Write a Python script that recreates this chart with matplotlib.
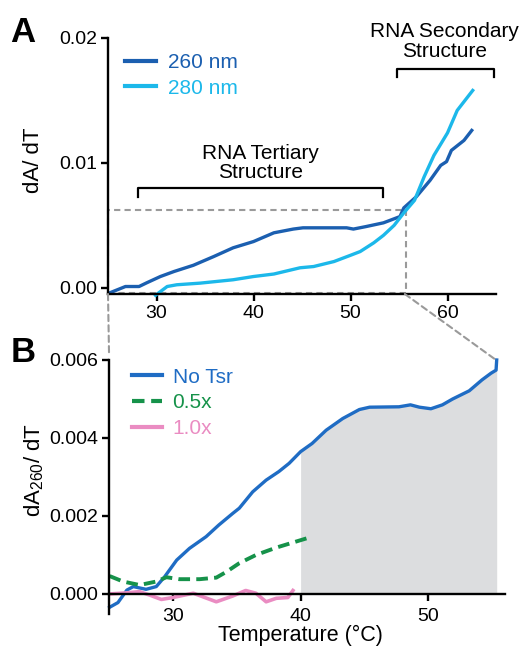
import numpy as np
import matplotlib
matplotlib.use("Agg")
import matplotlib.pyplot as plt
from matplotlib.patches import Rectangle, ConnectionPatch

plt.rcParams['font.family'] = ['Liberation Sans', 'DejaVu Sans']
plt.rcParams['mathtext.fontset'] = 'custom'
plt.rcParams['mathtext.rm'] = 'Liberation Sans'
plt.rcParams['mathtext.it'] = 'Liberation Sans'

# panel A: dA/dT at two wavelengths
temp_260 = [25.2, 26.8, 28.2, 29.0, 30.4, 31.8, 33.8, 35.9, 37.9, 40.0, 42.1, 44.1,
            45.1, 48.2, 49.6, 50.3, 51.6, 53.4, 55.1, 55.5, 56.8, 58.2, 59.3, 59.9,
            60.4, 61.7, 62.0, 62.5]
dadt_260 = [-0.0004, 0.0001, 0.0001, 0.0004, 0.0009, 0.0013, 0.0018, 0.0025, 0.0032,
            0.0037, 0.0044, 0.0047, 0.0048, 0.0048, 0.0048, 0.0047, 0.0049, 0.0052,
            0.0057, 0.0064, 0.0073, 0.0086, 0.0098, 0.0101, 0.0110, 0.0118, 0.0121,
            0.0126]
temp_280 = [29.9, 31.1, 32.1, 34.5, 37.9, 40.0, 42.1, 44.8, 46.2, 48.3, 50.0, 51.0,
            52.4, 53.4, 54.5, 55.5, 56.6, 57.6, 58.6, 60.0, 61.0, 62.6]
dadt_280 = [-0.0006, 0.0001, 0.00024, 0.00037, 0.00064, 0.0009, 0.0011, 0.0016,
            0.0017, 0.0021, 0.0026, 0.0029, 0.0036, 0.0042, 0.0050, 0.0060, 0.0070,
            0.0089, 0.0106, 0.0124, 0.0142, 0.0158]

# panel B: dA260/dT with Tsr
temp_none = [25.05, 25.7, 26.4, 26.9, 27.9, 28.7, 29.35, 30.3, 31.3, 32.6, 33.6, 34.7,
             35.2, 36.25, 37.3, 38.3, 39.1, 40.0, 40.9, 42.0, 43.3, 44.6, 45.4, 47.7,
             48.6, 49.3, 50.2, 51.1, 51.9, 53.2, 54.2, 54.9, 55.3, 55.35]
dadt_none = [-0.00034, -0.00022, 0.0001, 0.00019, 0.00012, 0.00019, 0.00044, 0.00087,
             0.00117, 0.00147, 0.00177, 0.00207, 0.0022, 0.00262, 0.00292, 0.00314,
             0.00335, 0.00365, 0.00386, 0.0042, 0.0045, 0.00473, 0.00479, 0.0048,
             0.00485, 0.00479, 0.00475, 0.00485, 0.005, 0.00521, 0.00549, 0.00566,
             0.00574, 0.006]
temp_half = [25.05, 26.1, 27.4, 28.7, 29.5, 30.5, 32.1, 33.4, 34.2, 35.2, 36.5, 38.1,
             39.4, 40.7]
dadt_half = [0.00046, 0.00032, 0.00023, 0.00032, 0.00043, 0.00038, 0.00038, 0.00042,
             0.00057, 0.00079, 0.0010, 0.00119, 0.00132, 0.00145]
temp_one = [25.0, 26.4, 27.4, 28.2, 29.1, 30.0, 31.6, 33.4, 34.7, 35.7, 36.5, 37.3,
            38.1, 39.0, 39.4]
dadt_one = [0.0, 0.00003, 0.00006, -0.00003, -0.00014, -0.00009, 0.00002, -0.0002,
            -0.00005, 0.00009, 0.00002, -0.0002, -0.00011, -0.00009, 0.00009]

c260 = '#1b5fb0'
c280 = '#1cb8ea'
cnone = '#1f6cc4'
chalf = '#16924a'
cone = '#ea8cc2'
grey = '#9a9a9a'

fig = plt.figure(figsize=(5.24, 6.48), dpi=100)
axA = fig.add_axes([108/524, 1-294/648, 388/524, 256/648])
axB = fig.add_axes([109/524, 1-613.5/648, 396/524, 253.5/648])

for ax in (axA, axB):
    ax.spines['top'].set_visible(False)
    ax.spines['right'].set_visible(False)
    for s in ('left', 'bottom'):
        ax.spines[s].set_linewidth(1.7)
    ax.tick_params(width=1.7, length=5, labelsize=14, pad=3)
    ax.patch.set_alpha(0)

# ---- panel A
axA.plot(temp_260, dadt_260, color=c260, lw=2.4, label='260 nm', clip_on=False)
axA.plot(temp_280, dadt_280, color=c280, lw=2.4, label='280 nm', clip_on=False)
axA.set_xlim(25, 65)
axA.set_ylim(-0.0005, 0.02)
axA.set_xticks([30, 40, 50, 60])
axA.set_yticks([0, 0.01, 0.02])
axA.set_yticklabels(['0.00', '0.01', '0.02'])
leg = axA.legend(loc='upper left', bbox_to_anchor=(0.045, 0.94), frameon=False,
                 fontsize=15, handlelength=1.45, handletextpad=0.6,
                 labelspacing=0.3, borderpad=0, borderaxespad=0,
                 labelcolor='linecolor')
for ln in leg.get_lines():
    ln.set_linewidth(3)

axA.add_patch(Rectangle((25, -0.0004), 30.7, 0.0066, fill=False, ec=grey,
                        lw=1.5, ls=(0, (3, 2)), clip_on=False, zorder=0))

# brackets
axA.plot([28.1, 28.1, 53.3, 53.3], [0.0073, 0.008, 0.008, 0.0073], color='k',
         lw=1.6, clip_on=False)
axA.text(40.7, 0.0100, 'RNA Tertiary\nStructure', ha='center', va='center',
         fontsize=15, linespacing=1.05)
axA.plot([54.8, 54.8, 64.8, 64.8], [0.0169, 0.0175, 0.0175, 0.0169], color='k',
         lw=1.6, clip_on=False)
axA.text(59.7, 0.0197, 'RNA Secondary\nStructure', ha='center', va='center',
         fontsize=15, linespacing=1.05)

# ---- panel B
tn = np.array(temp_none)
dn = np.array(dadt_none)
axB.fill_between(tn, 0, dn, where=tn >= 40, color='#dcdddf', lw=0, zorder=0)
axB.plot(temp_none, dadt_none, color=cnone, lw=2.4, label='No Tsr', clip_on=False)
axB.plot(temp_half, dadt_half, color=chalf, lw=2.8, ls=(0, (3, 1.6)), label='0.5x')
axB.plot(temp_one, dadt_one, color=cone, lw=2.6, label='1.0x')
axB.set_xlim(25, 56)
axB.set_ylim(-0.0005, 0.006)
axB.spines['bottom'].set_position(('data', 0))
axB.set_xticks([30, 40, 50])
axB.set_yticks([0, 0.002, 0.004, 0.006])
axB.set_yticklabels(['0.000', '0.002', '0.004', '0.006'])
axB.tick_params(axis='x', pad=5)
legB = axB.legend(loc='upper left', bbox_to_anchor=(0.058, 0.97), frameon=False,
                  fontsize=15, handlelength=1.45, handletextpad=0.5,
                  labelspacing=0.32, borderpad=0, borderaxespad=0,
                  labelcolor='linecolor')
for ln in legB.get_lines():
    ln.set_linewidth(3)

# zoom connectors
con1 = ConnectionPatch(xyA=(25, -0.0005), coordsA=axA.transData,
                       xyB=(25, 0.0062), coordsB=axB.transData,
                       color=grey, lw=1.5, ls=(0, (3, 2)))
con2 = ConnectionPatch(xyA=(55.6, -0.0005), coordsA=axA.transData,
                       xyB=(55.3, 0.006), coordsB=axB.transData,
                       color=grey, lw=1.5, ls=(0, (3, 2)))
fig.add_artist(con1)
fig.add_artist(con2)

# labels
fig.text(0.064, 1-160/648, 'dA/ dT', rotation=90, ha='center', va='center', fontsize=16)
fig.text(0.066, 1-470/648, r'dA$_{260}$/ dT', rotation=90, ha='center', va='center',
         fontsize=16)
fig.text(0.573, 0.019, 'Temperature (°C)', ha='center', va='center', fontsize=15.5)
fig.text(0.044, 1-32/648, 'A', ha='center', va='center', fontsize=25, weight='bold')
fig.text(0.044, 1-352/648, 'B', ha='center', va='center', fontsize=25, weight='bold')

fig.savefig('out.png', dpi=100)
